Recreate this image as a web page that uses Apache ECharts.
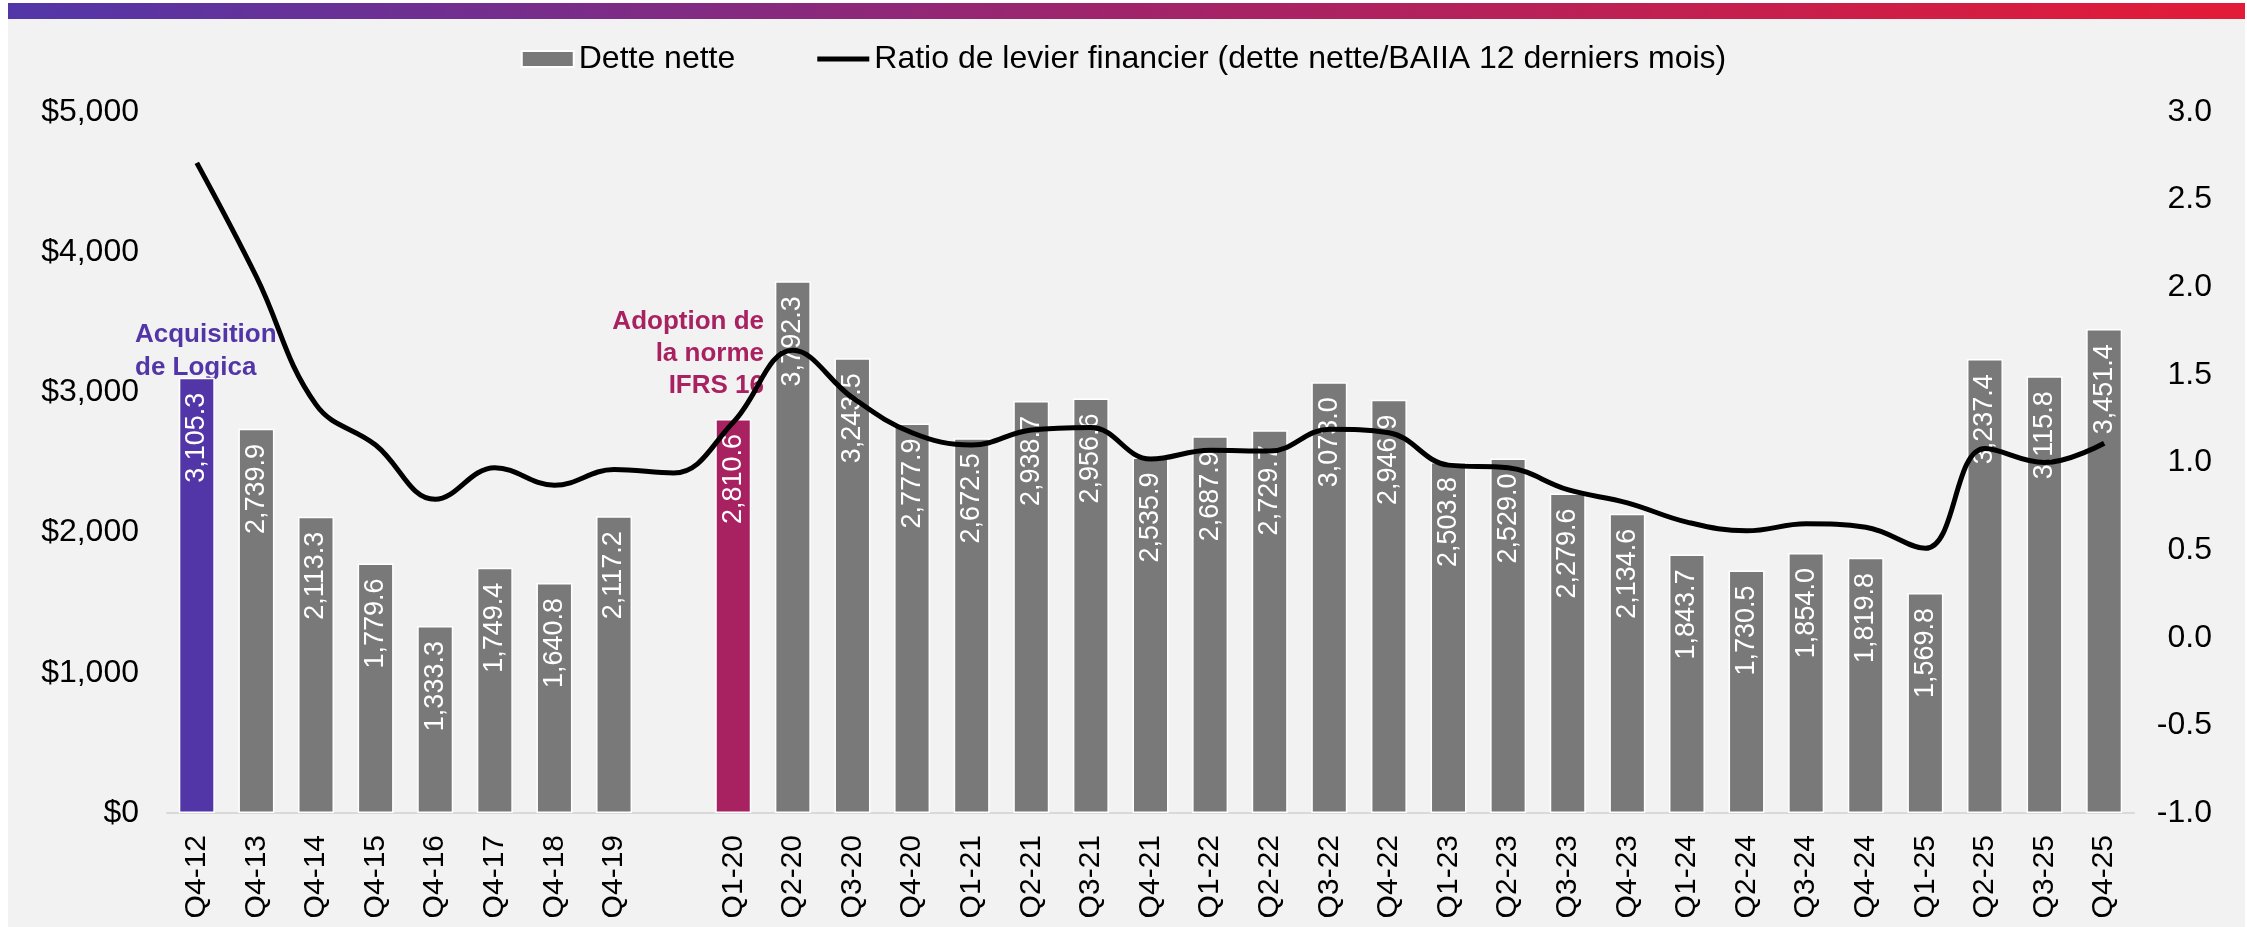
<!DOCTYPE html>
<html>
<head>
<meta charset="utf-8">
<script src="https://cdn.jsdelivr.net/npm/echarts@6/dist/echarts.min.js"></script>
<style>
  html, body { margin: 0; padding: 0; background: #fff; }
  #panel {
    position: absolute; left: 8px; top: 19px; width: 2237px; height: 908px;
    background: #f2f2f2;
  }
  #band {
    position: absolute; left: 8px; top: 3px; width: 2237px; height: 16px;
    background: linear-gradient(to right, #5236a8, #a0246a 50%, #e31b37);
  }
  #chart { position: absolute; left: 0; top: 0; width: 2247px; height: 927px; }
</style>
</head>
<body>
<div id="band"></div>
<div id="panel"></div>
<div id="chart"></div>
<script>
// trimestres (case vide entre Q4-19 et Q1-20)
var quarters = ['Q4-12', 'Q4-13', 'Q4-14', 'Q4-15', 'Q4-16', 'Q4-17', 'Q4-18', 'Q4-19', '',
  'Q1-20', 'Q2-20', 'Q3-20', 'Q4-20', 'Q1-21', 'Q2-21', 'Q3-21', 'Q4-21',
  'Q1-22', 'Q2-22', 'Q3-22', 'Q4-22', 'Q1-23', 'Q2-23', 'Q3-23', 'Q4-23',
  'Q1-24', 'Q2-24', 'Q3-24', 'Q4-24', 'Q1-25', 'Q2-25', 'Q3-25', 'Q4-25'];

// dette nette (M$)
var netDebt = [3105.3, 2739.9, 2113.3, 1779.6, 1333.3, 1749.4, 1640.8, 2117.2, null,
  2810.6, 3792.3, 3243.5, 2777.9, 2672.5, 2938.7, 2956.6, 2535.9,
  2687.9, 2729.7, 3073.0, 2946.9, 2503.8, 2529.0, 2279.6, 2134.6,
  1843.7, 1730.5, 1854.0, 1819.8, 1569.8, 3237.4, 3115.8, 3451.4];

// ratio de levier
var leverage = [2.71, 2.06, 1.33, 1.10, 0.79, 0.97, 0.87, 0.96, 0.94,
  1.23, 1.64, 1.37, 1.17, 1.10, 1.185, 1.20, 1.02,
  1.07, 1.065, 1.19, 1.17, 0.985, 0.97, 0.845, 0.77,
  0.66, 0.61, 0.65, 0.63, 0.51, 1.08, 1.0, 1.11];

var seriesNames = ['Dette nette', 'Ratio de levier financier (dette nette/BAIIA 12 derniers mois)'];

var highlight = { 'Q4-12': '#5236a8', 'Q1-20': '#a82261' };

var font = 'Arial, "Liberation Sans", sans-serif';

var barData = netDebt.map(function (v, i) {
  var c = highlight[quarters[i]];
  return c ? { value: v, itemStyle: { color: c } } : v;
});

var chart = echarts.init(document.getElementById('chart'));

chart.setOption({
  animation: false,
  textStyle: { fontFamily: font },
  grid: { left: 167, right: 113, top: 112, bottom: 114 },
  legend: {
    top: 38,
    left: 'center',
    itemWidth: 52,
    itemHeight: 16,
    itemGap: 82,
    textStyle: { fontSize: 32, color: '#000', fontFamily: font },
    data: [
      { name: seriesNames[0], icon: 'rect' },
      { name: seriesNames[1], icon: 'path://M0,0 L52,0 L52,5 L0,5 Z', itemStyle: { color: '#000' } }
    ]
  },
  xAxis: {
    type: 'category',
    data: quarters,
    axisLine: { lineStyle: { color: '#d9d9d9', width: 2 } },
    axisTick: { show: false },
    axisLabel: { rotate: 90, fontSize: 30, color: '#000', margin: 22, interval: 0 }
  },
  yAxis: [
    {
      type: 'value',
      min: 0,
      max: 5000,
      interval: 1000,
      splitLine: { show: false },
      axisLine: { show: false },
      axisLabel: {
        fontSize: 32, color: '#000', margin: 28,
        formatter: function (v) { return '$' + v.toLocaleString('en-US'); }
      }
    },
    {
      type: 'value',
      min: -1,
      max: 3,
      interval: 0.5,
      splitLine: { show: false },
      axisLine: { show: false },
      axisLabel: {
        fontSize: 32, color: '#000', margin: 78, align: 'right',
        formatter: function (v) { return v.toFixed(1); }
      }
    }
  ],
  series: [
    {
      name: seriesNames[0],
      type: 'bar',
      barWidth: 36,
      itemStyle: { color: '#797979', borderColor: '#fff', borderWidth: 1.5 },
      label: {
        show: true,
        position: 'insideTop',
        rotate: 90,
        align: 'right',
        verticalAlign: 'middle',
        distance: 15,
        fontSize: 27,
        color: '#fff',
        formatter: function (p) {
          return p.value == null ? '' : p.value.toLocaleString('en-US', { minimumFractionDigits: 1, maximumFractionDigits: 1 });
        }
      },
      data: barData
    },
    {
      name: seriesNames[1],
      type: 'line',
      yAxisIndex: 1,
      smooth: 0.4,
      symbol: 'none',
      z: 5,
      lineStyle: { color: '#000', width: 5 },
      itemStyle: { color: '#000' },
      data: leverage
    }
  ],
  graphic: [
    {
      type: 'text', x: 135, y: 318,
      style: {
        text: 'Acquisition\nde Logica', fill: '#5236a8',
        font: 'bold 26px ' + font, lineHeight: 33, textAlign: 'left'
      }
    },
    {
      type: 'text', x: 764, y: 306,
      style: {
        text: 'Adoption de\nla norme\nIFRS 16', fill: '#a82261',
        font: 'bold 26px ' + font, lineHeight: 32, textAlign: 'right'
      }
    }
  ]
});
</script>
</body>
</html>
